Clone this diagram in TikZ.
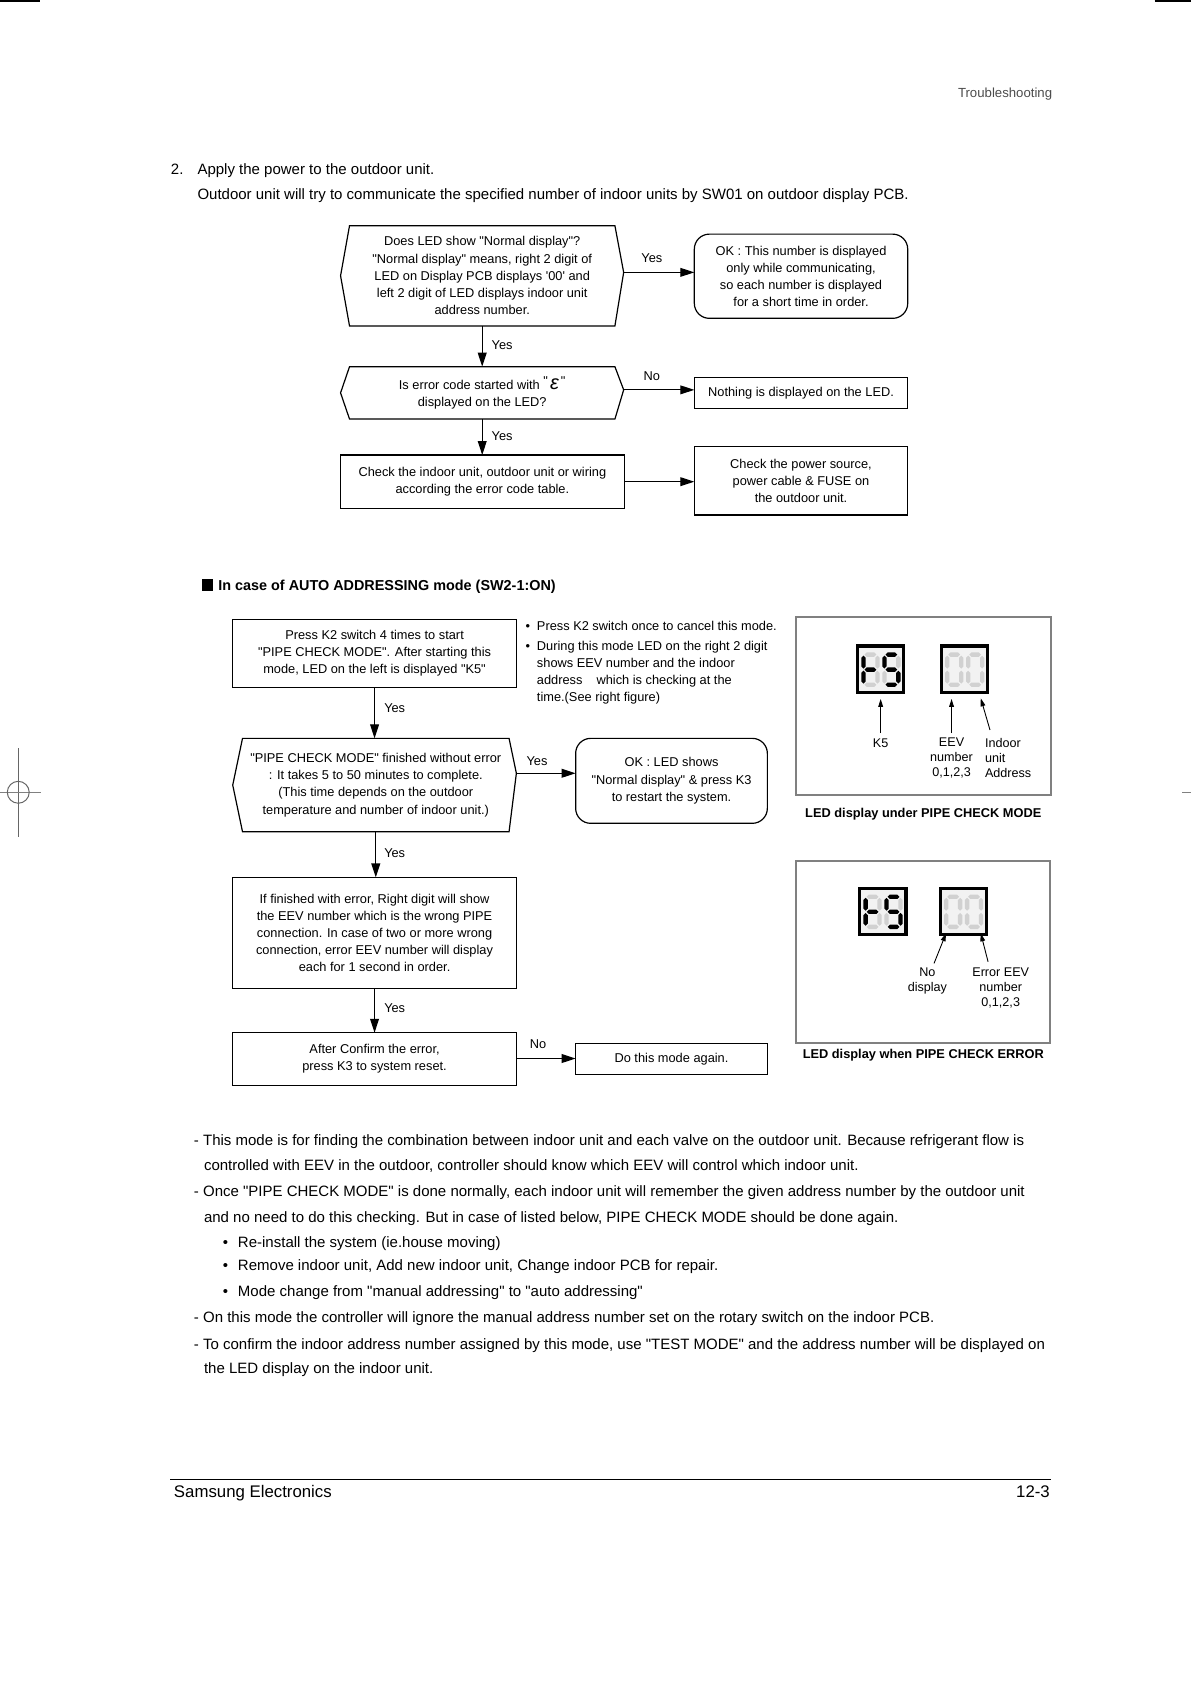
\documentclass[tikz,border=0pt]{standalone}
\usepackage{fontspec}
\setmainfont{Liberation Sans}[Ligatures=TeXOff]
\usetikzlibrary{arrows.meta,calc}
\newlength\pxu \setlength\pxu{0.53697pt}
\definecolor{sgoff}{gray}{0.82}
\definecolor{sgbox}{gray}{0.95}
\definecolor{panelgray}{gray}{0.5}
\definecolor{hdrgray}{gray}{0.3}
\newcommand\sgh[4]{\fill[#1] (#2,#4) -- (#2+2,#4-2) -- (#3-2,#4-2) -- (#3,#4) -- (#3-2,#4+2) -- (#2+2,#4+2) -- cycle;}
\newcommand\sgv[4]{\fill[#1] (#2,#3) -- (#2+2,#3+2) -- (#2+2,#4-2) -- (#2,#4) -- (#2-2,#4-2) -- (#2-2,#3+2) -- cycle;}
\newcommand\dgt[9]{%
 \sgh{#3}{#1+1}{#1+12}{#2}
 \sgv{#4}{#1+13}{#2+1}{#2+13}
 \sgv{#5}{#1+13}{#2+15}{#2+27}
 \sgh{#6}{#1+1}{#1+12}{#2+28}
 \sgv{#7}{#1}{#2+15}{#2+27}
 \sgv{#8}{#1}{#2+1}{#2+13}
 \sgh{#9}{#1+1}{#1+12}{#2+14}}
\tikzset{
 every node/.style={inner sep=0pt,outer sep=0pt},
 ft/.style={font=\fontsize{6.4}{8.6}\selectfont},
 box/.style={draw,line width=0.6pt,ft,align=center},
 rbox/.style={box,rounded corners=7.5pt},
 hexn/.style={ft,align=center},
 hexline/.style={line width=0.6pt},
 arr/.style={line width=0.6pt,-{Triangle[length=7pt,width=4.4pt]}},
 lbl/.style={ft},
 body/.style={font=\fontsize{7.5}{9}\selectfont,anchor=mid west},
 ledlbl/.style={font=\fontsize{6.3}{7.5}\selectfont},
 ledarr/.style={line width=0.45pt,-{Triangle[length=4pt,width=2.4pt]}},
 captxt/.style={font=\bfseries\fontsize{6.4}{8}\selectfont},
 panel/.style={draw=panelgray,line width=0.9pt},
 ledbox/.style={draw=black,fill=sgbox,line width=3\pxu},
}
\begin{document}
\begin{tikzpicture}[x=0.53697pt,y={(0,-0.53697pt)}]
\useasboundingbox (0,0) rectangle (1109,1568);
% page marks
\draw[line width=1pt] (0,1) -- (36.8,1);
\draw[line width=1pt] (1075,1) -- (1109,1);
\draw[line width=0.5pt,gray!80!black] (17,696.5) -- (17,779.3);
\draw[line width=0.5pt,gray] (0,737.7) -- (37.9,737.7);
\draw[line width=0.5pt,gray!80!black] (17,737.7) circle (10.2);
\draw[line width=0.5pt,gray] (1101,737.7) -- (1109,737.7);
% header
\node[font=\fontsize{6.6}{8}\selectfont,text=hdrgray,anchor=mid east] (hdr) at (979.7,85.4) {Troubleshooting};
\node[body] (n2) at (159.2,157.4) {2.};
\node[body] (t1) at (183.9,157.4) {Apply the power to the outdoor unit.};
\node[body] (t2) at (183.9,180.7) {Outdoor unit will try to communicate the specified number of indoor units by SW01 on outdoor display PCB.};
% ---- flowchart 1
\node[hexn,minimum width=247.1\pxu,minimum height=93.4\pxu] (A) at (449,256.8)
 {Does LED show "Normal display"?\\"Normal display" means, right 2 digit of\\LED on Display PCB displays '00' and\\left 2 digit of LED displays indoor unit\\address number.};
\coordinate (Ar) at (580.7,253.6);
\coordinate (Al) at (317.1,256.8);
\draw[hexline] (A.north west) -- (A.north east) -- (Ar) -- (A.south east) -- (A.south west) -- (Al) -- cycle;
\node[rbox,minimum width=198.7\pxu,minimum height=78.4\pxu] (OK1) at (745.85,257.2)
 {OK : This number is displayed\\only while communicating,\\so each number is displayed\\for a short time in order.};
\draw[arr] (Ar) -- (Ar -| OK1.west);
\node[lbl] (y1) at (607,240.6) {Yes};
\node[hexn,minimum width=247.1\pxu,minimum height=48.8\pxu] (B) at (449,365.8)
 {Is error code started with \raisebox{1.8pt}{"}\,{\fontsize{10}{10}\selectfont\itshape ε}\,\raisebox{1.8pt}{"}\\displayed on the LED?};
\coordinate (Br) at (580.7,363);
\coordinate (Bl) at (317.1,365.8);
\draw[hexline] (B.north west) -- (B.north east) -- (Br) -- (B.south east) -- (B.south west) -- (Bl) -- cycle;
\draw[arr] (A.south) -- (B.north);
\node[lbl] (y2) at (467.5,321.3) {Yes};
\node[box,minimum width=198.7\pxu,minimum height=28.7\pxu] (NT) at (745.85,366) {Nothing is displayed on the LED.};
\draw[arr] (Br) -- (Br -| NT.west);
\node[lbl] (n1) at (607,349.8) {No};
\node[box,minimum width=264.3\pxu,minimum height=49.6\pxu] (C) at (449.15,448.5)
 {Check the indoor unit, outdoor unit or wiring\\according the error code table.};
\draw[arr] (B.south) -- (B.south |- C.north);
\node[lbl] (y3) at (467.5,406) {Yes};
\node[box,minimum width=198.7\pxu,minimum height=63.5\pxu] (D) at (745.85,447.75)
 {Check the power source,\\power cable \& FUSE on\\the outdoor unit.};
\draw[arr] (C.east) -- (C.east -| D.west);
% ---- heading
\node[fill=black,minimum size=10.3\pxu] (sq) at (192.9,544.7) {};
\node[anchor=mid west,font=\bfseries\fontsize{7.2}{9}\selectfont] (hd) at (203.3,544.5) {In case of AUTO ADDRESSING mode (SW2-1:ON)};
% ---- flowchart 2
\node[box,minimum width=264.1\pxu,minimum height=63.3\pxu] (E) at (348.75,608.35)
 {Press K2 switch 4 times to start\\"PIPE CHECK MODE". After starting this\\mode, LED on the left is displayed "K5"};
\node[hexn,minimum width=248.2\pxu,minimum height=86.9\pxu] (F) at (349.9,730.95)
 {"PIPE CHECK MODE" finished without error\\: It takes 5 to 50 minutes to complete.\\(This time depends on the outdoor\\temperature and number of indoor unit.)};
\coordinate (Fr) at (480.8,720);
\coordinate (Fl) at (216.7,731);
\draw[hexline] (F.north west) -- (F.north east) -- (Fr) -- (F.south east) -- (F.south west) -- (Fl) -- cycle;
\draw[arr] (E.south) -- (E.south |- F.north);
\node[lbl] (y4) at (367.5,659) {Yes};
\node[rbox,minimum width=178.5\pxu,minimum height=79.1\pxu] (G) at (625.25,727.05)
 {OK : LED shows\\"Normal display" \& press K3\\to restart the system.};
\draw[arr] (Fr) -- (Fr -| G.west);
\node[lbl] (y5) at (500,709) {Yes};
\node[box,minimum width=264.1\pxu,minimum height=103.3\pxu] (H) at (348.75,868.65)
 {If finished with error, Right digit will show\\the EEV number which is the wrong PIPE\\connection. In case of two or more wrong\\connection, error EEV number will display\\each for 1 second in order.};
\draw[arr] (F.south) -- (F.south |- H.north);
\node[lbl] (y6) at (367.5,794.6) {Yes};
\node[box,minimum width=264.1\pxu,minimum height=48.8\pxu] (I) at (348.75,986)
 {After Confirm the error,\\press K3 to system reset.};
\draw[arr] (H.south) -- (H.south |- I.north);
\node[lbl] (y7) at (367.5,939) {Yes};
\node[box,minimum width=178.5\pxu,minimum height=28.9\pxu] (J) at (625.25,986.05) {Do this mode again.};
\coordinate (Ir) at (480.8,985.6);
\draw[arr] (Ir) -- (Ir -| J.west);
\node[lbl] (n3) at (501,972) {No};
% bullets right of flowchart 2
\node[ft,anchor=mid west] (b1d) at (489.5,582.5) {•};
\node[ft,anchor=mid west] (b1) at (500,582.5) {Press K2 switch once to cancel this mode.};
\node[ft,anchor=mid west] (b2d) at (489.5,600.5) {•};
\node[ft,anchor=mid west] (b2) at (500,600.5) {During this mode LED on the right 2 digit};
\node[ft,anchor=mid west] (b3) at (500,616.5) {shows EEV number and the indoor};
\node[ft,anchor=mid west] (b4) at (500,632.5) {address\hspace{1.1em}which is checking at the};
\node[ft,anchor=mid west] (b5) at (500,648.5) {time.(See right figure)};
% ---- LED panel 1
\draw[panel] (741.2,574.8) rectangle (978.3,740.3);
\draw[ledbox] (798.5,601.5) rectangle (841.5,644.5);
\dgt{804}{609.5}{sgoff}{sgoff}{sgoff}{sgoff}{black}{black}{black}
\dgt{823.5}{609.5}{black}{sgoff}{black}{black}{sgoff}{black}{black}
\draw[ledbox] (876.5,601.5) rectangle (919.5,644.5);
\dgt{882}{609.5}{sgoff}{sgoff}{sgoff}{sgoff}{sgoff}{sgoff}{sgbox}
\dgt{901.5}{609.5}{sgoff}{sgoff}{sgoff}{sgoff}{sgoff}{sgoff}{sgbox}
\node[ledlbl] (k5l) at (820,692) {K5};
\node[ledlbl,align=center] (eevl) at (886,706) {EEV\\number\\0,1,2,3};
\node[ledlbl,align=left,anchor=west] (indl) at (917.2,706) {Indoor\\unit\\Address};
\coordinate (k5a) at (820,682.6); \coordinate (k5b) at (820,650.8);
\coordinate (eeva) at (886,682.6); \coordinate (eevb) at (886,650.8);
\coordinate (inda) at (921.8,679.7); \coordinate (indb) at (913.2,650.2);
\draw[ledarr] (k5a) -- (k5b);
\draw[ledarr] (eeva) -- (eevb);
\draw[ledarr] (inda) -- (indb);
\node[captxt] (cap1) at (859.7,758) {LED display under PIPE CHECK MODE};
% ---- LED panel 2
\draw[panel] (741,801.4) rectangle (978,970.9);
\draw[ledbox] (800.5,827) rectangle (843.5,870);
\dgt{806}{835}{sgoff}{sgoff}{sgoff}{sgoff}{black}{black}{black}
\dgt{825.5}{835}{black}{sgoff}{black}{black}{sgoff}{black}{black}
\draw[ledbox] (875.5,827) rectangle (918.5,870);
\dgt{881}{835}{sgoff}{sgoff}{sgoff}{sgoff}{sgoff}{sgoff}{sgbox}
\dgt{900.5}{835}{sgoff}{sgoff}{sgoff}{sgoff}{sgoff}{sgoff}{sgbox}
\node[ledlbl,align=center] (nol) at (863.5,913.6) {No\\display};
\node[ledlbl,align=center] (errl) at (931.8,920.3) {Error EEV\\number\\0,1,2,3};
\coordinate (noa) at (869.7,897); \coordinate (nob) at (880.9,869);
\coordinate (erra) at (920,895.5); \coordinate (errb) at (913.2,869);
\draw[ledarr] (noa) -- (nob);
\draw[ledarr] (erra) -- (errb);
\node[captxt] (cap2) at (859.7,982.4) {LED display when PIPE CHECK ERROR};
% ---- body text
\node[body] (p1a) at (180.6,1062.1) {- This mode is for finding the combination between indoor unit and each valve on the outdoor unit. Because refrigerant flow is};
\node[body] (p1b) at (190,1084.7) {controlled with EEV in the outdoor, controller should know which EEV will control which indoor unit.};
\node[body] (p2a) at (180.6,1109.6) {- Once "PIPE CHECK MODE" is done normally, each indoor unit will remember the given address number by the outdoor unit};
\node[body] (p2b) at (190,1132.9) {and no need to do this checking. But in case of listed below, PIPE CHECK MODE should be done again.};
\node[body] (q1d) at (207.5,1156.2) {•};
\node[body] (q1) at (221.6,1156.2) {Re-install the system (ie.house moving)};
\node[body] (q2d) at (207.5,1178.5) {•};
\node[body] (q2) at (221.6,1178.5) {Remove indoor unit, Add new indoor unit, Change indoor PCB for repair.};
\node[body] (q3d) at (207.5,1201.8) {•};
\node[body] (q3) at (221.6,1201.8) {Mode change from "manual addressing" to "auto addressing"};
\node[body] (p3) at (180.6,1226.5) {- On this mode the controller will ignore the manual address number set on the rotary switch on the indoor PCB.};
\node[body] (p4a) at (180.6,1251.4) {- To confirm the indoor address number assigned by this mode, use "TEST MODE" and the address number will be displayed on};
\node[body] (p4b) at (190,1274.1) {the LED display on the indoor unit.};
% ---- footer
\coordinate (fl) at (158.5,1377.4); \coordinate (fr) at (978.5,1377.4);
\draw[line width=0.8pt] (fl) -- (fr);
\node[font=\fontsize{8.4}{10}\selectfont,anchor=mid west] (ft1) at (162,1389.5) {Samsung Electronics};
\node[font=\fontsize{8.4}{10}\selectfont,anchor=mid east] (ft2) at (977.5,1389.5) {12-3};
\end{tikzpicture}
\end{document}
